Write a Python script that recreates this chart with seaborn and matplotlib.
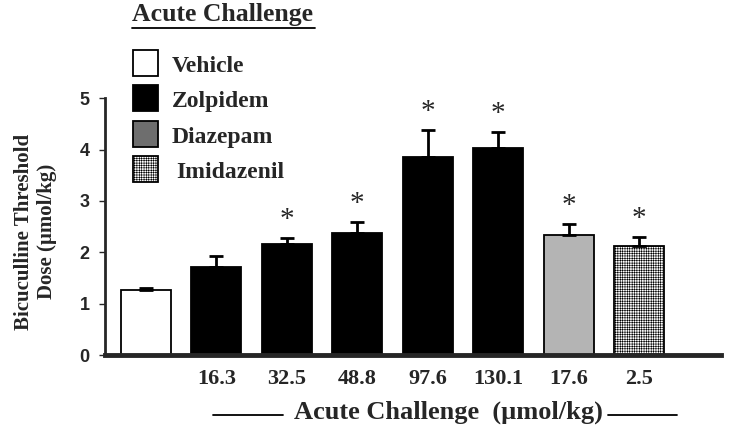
import matplotlib
matplotlib.use("Agg")
import matplotlib.pyplot as plt
import numpy as np
import pandas as pd
import seaborn as sns
from matplotlib.patches import Rectangle
from matplotlib.lines import Line2D

# data
groups = ["Vehicle", "Zolpidem", "Zolpidem", "Zolpidem", "Zolpidem", "Zolpidem", "Diazepam", "Imidazenil"]
doses = ["", "16.3", "32.5", "48.8", "97.6", "130.1", "17.6", "2.5"]
means = [1.26, 1.71, 2.16, 2.37, 3.85, 4.03, 2.33, 2.12]
sems = [0.04, 0.22, 0.12, 0.22, 0.53, 0.31, 0.22, 0.18]
signif = [False, False, True, True, True, True, True, True]

bar_colors = {"Vehicle": "white", "Zolpidem": "black", "Diazepam": "#b4b4b4", "Imidazenil": "white"}
legend_colors = {"Vehicle": "white", "Zolpidem": "black", "Diazepam": "#6e6e6e", "Imidazenil": "white"}

SERIF = ["Liberation Serif", "DejaVu Serif"]
SANS = ["Liberation Sans", "DejaVu Sans"]
HATCH = "+++++++"

sns.set_style("ticks")
plt.rcParams["hatch.linewidth"] = 0.4
plt.rcParams["hatch.color"] = "#444444"

df = pd.DataFrame({
    "key": [f"{g} {d}" for g, d in zip(groups, doses)],
    "group": groups,
    "mean": means,
})

fig = plt.figure(figsize=(7.5, 4.4), dpi=100)
ax = fig.add_axes([0.14, 0.193, 0.821, 0.584])

sns.barplot(data=df, x="key", y="mean", hue="group", palette=bar_colors,
            dodge=False, width=0.71, edgecolor="black", linewidth=1.3,
            legend=False, ax=ax)

for i, p in enumerate(ax.patches):
    if i < len(groups) and groups[i] == "Imidazenil":
        p.set_hatch(HATCH)

x = np.arange(len(means))
ax.errorbar(x, means, yerr=[np.zeros(len(sems)), sems], fmt="none",
            ecolor="black", elinewidth=2, capsize=5, capthick=2)

for xi, m, s, sig in zip(x, means, sems, signif):
    if sig:
        ax.text(xi, m + s + 0.1, "*", ha="center", va="bottom", fontsize=21,
                family=SERIF, clip_on=False)

ax.set_ylim(0, 5)
ax.set_xlim(-0.58, 8.16)
ax.set_yticks([0, 1, 2, 3, 4, 5])
ax.set_yticklabels(["0", "1", "2", "3", "4", "5"], fontsize=13,
                   fontweight="bold", family=SANS)
ax.set_xticks(x)
ax.set_xticklabels(doses, fontsize=16, fontweight="bold", family=SERIF)
ax.tick_params(axis="x", length=0, pad=10)
ax.tick_params(axis="y", length=4, width=1, pad=7)
ax.set_xlabel("")
sns.despine(ax=ax)
ax.spines["left"].set_linewidth(2)
ax.spines["bottom"].set_linewidth(3.5)

# x label with the rules on each side
W, H = 750, 440
fig.text(448 / W, 1 - 412 / H, "Acute Challenge  (\u00b5mol/kg)", fontsize=19,
         fontweight="bold", family=SERIF, ha="center", va="center")
for x0, x1 in [(213, 283), (608, 677)]:
    fig.add_artist(Line2D([x0 / W, x1 / W], [1 - 415 / H, 1 - 415 / H],
                          color="black", lw=1.3, transform=fig.transFigure))

ax.set_ylabel("Bicuculline Threshold\nDose (\u00b5mol/kg)", fontsize=15,
              fontweight="bold", family=SERIF)
ax.yaxis.set_label_coords(-0.078, 0.48)

# legend drawn by hand in figure pixels
fig.text(132 / W, 1 - 15 / H, "Acute Challenge", fontsize=18.5, fontweight="bold",
         family=SERIF, va="center", ha="left")
fig.add_artist(Line2D([132 / W, 315 / W], [1 - 28 / H, 1 - 28 / H],
                      color="black", lw=1.3, transform=fig.transFigure))

leg_rows = [("Vehicle", 50, 172), ("Zolpidem", 85, 172),
            ("Diazepam", 121, 172), ("Imidazenil", 156, 176)]
for name, top, tx in leg_rows:
    r = Rectangle((133 / W, 1 - (top + 26) / H), 25 / W, 26 / H,
                  transform=fig.transFigure, facecolor=legend_colors[name],
                  edgecolor="black", lw=1.3,
                  hatch=HATCH if name == "Imidazenil" else None)
    fig.add_artist(r)
    fig.text(tx / W, 1 - (top + 16) / H, name, fontsize=17, fontweight="bold",
             family=SERIF, va="center", ha="left")

fig.savefig("out.png", dpi=100)
